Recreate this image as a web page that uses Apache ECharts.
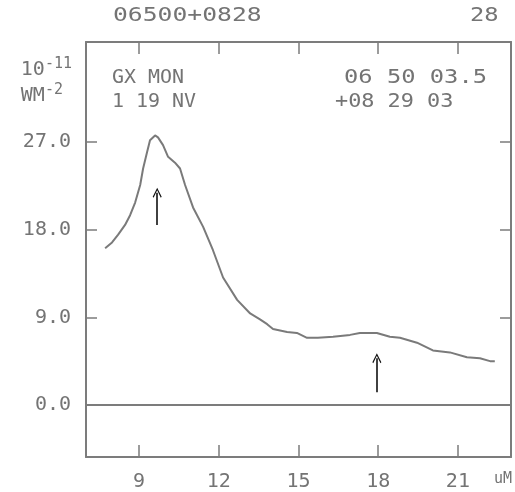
<!DOCTYPE html>
<html>
<head>
<meta charset="utf-8">
<script src="https://cdn.jsdelivr.net/npm/echarts@6/dist/echarts.min.js"></script>
<style>
  html, body { margin: 0; padding: 0; background: #fff; }
  #chart { width: 515px; height: 492px; }
</style>
</head>
<body>
<div id="chart"></div>
<script>
// wavelength (um) and flux (10^-11 W m^-2)
var wavelength = [7.72, 7.98, 8.21, 8.47, 8.66, 8.85, 9.04, 9.15, 9.30, 9.41, 9.60, 9.71, 9.90, 10.09, 10.35, 10.54,
  10.73, 11.03, 11.41, 11.78, 12.16, 12.69, 13.18, 13.55, 13.82, 14.04, 14.57, 14.94, 15.32, 15.73, 16.30,
  16.94, 17.31, 17.95, 18.44, 18.82, 19.46, 20.06, 20.70, 21.34, 21.83, 22.21, 22.39];
var flux = [16.1, 16.7, 17.5, 18.5, 19.5, 20.8, 22.6, 24.3, 26.0, 27.2, 27.7, 27.5, 26.7, 25.5, 24.9, 24.3,
  22.6, 20.3, 18.3, 15.9, 13.1, 10.8, 9.4, 8.8, 8.3, 7.8, 7.5, 7.4, 6.9, 6.9, 7.0,
  7.2, 7.4, 7.4, 7.0, 6.9, 6.4, 5.6, 5.4, 4.9, 4.8, 4.5, 4.5];

var xTicks = [9, 12, 15, 18, 21];
var yTicks = [0, 9, 18, 27];
var yMarks = [9, 18, 27];

// feature arrows: [x, y from, y to]
var arrows = [[9.68, 18.5, 21.8], [17.95, 1.3, 4.8]];

var gray = '#747474';
var font = 'DejaVu Sans Mono';

var lineData = [];
for (var i = 0; i < wavelength.length; i++) {
  lineData.push([wavelength[i], flux[i]]);
}

var arrowLines = [];
for (var j = 0; j < arrows.length; j++) {
  arrowLines.push([
    { coord: [arrows[j][0], arrows[j][1]] },
    { coord: [arrows[j][0], arrows[j][2]] }
  ]);
}

function xAxisOpt(pos, labels) {
  return {
    type: 'value', position: pos, min: 7, max: 23,
    axisLine: { show: true, onZero: false, lineStyle: { color: '#7c7c7c', width: 2 } },
    axisTick: { show: true, inside: true, length: 12, customValues: xTicks, lineStyle: { color: '#7c7c7c', width: 1.5 } },
    axisLabel: { show: labels, customValues: xTicks, margin: 15, color: gray, fontFamily: font, fontSize: 20 },
    splitLine: { show: false }
  };
}

function yAxisOpt(pos, labels) {
  return {
    type: 'value', position: pos, min: -5.35, max: 37.3,
    axisLine: { show: true, onZero: false, lineStyle: { color: '#7c7c7c', width: 2 } },
    axisTick: { show: true, inside: true, length: 11, customValues: yMarks, lineStyle: { color: '#7c7c7c', width: 1.5 } },
    axisLabel: {
      show: labels, customValues: yTicks, margin: 15, color: gray, fontFamily: font, fontSize: 20,
      formatter: function (v) { return v.toFixed(1); }
    },
    splitLine: { show: false }
  };
}

// header text, stretched a little like the plotter lettering
function label(txt, x, y, sx) {
  return {
    type: 'text', x: x, y: y, scaleX: sx,
    style: { text: txt, fill: gray, font: '19px "DejaVu Sans Mono"', verticalAlign: 'middle' }
  };
}

var chart = echarts.init(document.getElementById('chart'));
chart.setOption({
  backgroundColor: '#fff',
  animation: false,
  grid: { left: 86, right: 4, top: 42, bottom: 35 },
  xAxis: [xAxisOpt('bottom', true), xAxisOpt('top', false)],
  yAxis: [yAxisOpt('left', true), yAxisOpt('right', false)],
  series: [
    {
      type: 'line',
      data: lineData,
      showSymbol: false,
      lineStyle: { color: '#7a7a7a', width: 2 },
      markLine: {
        silent: true,
        symbol: 'none',
        label: { show: false },
        lineStyle: { color: '#7c7c7c', type: 'solid', width: 2 },
        data: [{ yAxis: 0 }]
      }
    },
    {
      type: 'line',
      data: [],
      markLine: {
        silent: true,
        symbol: ['none', 'path://M5,0 L10,8 L9,9 L5,2.2 L1,9 L0,8 Z'],
        symbolSize: [9, 10],
        label: { show: false },
        lineStyle: { color: '#111', type: 'solid', width: 1.6 },
        data: arrowLines
      }
    }
  ],
  graphic: [
    label('06500+0828', 113, 16, 1.3),
    label('28', 470, 16, 1.25),
    label('GX MON', 112, 78, 1.05),
    label('1 19 NV', 112, 102, 1.05),
    label('06 50 03.5', 344, 78, 1.25),
    label('+08 29 03', 335, 102, 1.15),
    {
      type: 'text', right: 443, top: 57,
      style: {
        text: '10{s|-11}\nWM{s|-2}', fill: gray, align: 'right',
        font: '20px "DejaVu Sans Mono"', lineHeight: 26,
        rich: { s: { fontSize: 15, fontFamily: font, verticalAlign: 'top', padding: [0, 0, 8, 0], fill: gray } }
      }
    },
    { type: 'text', right: 3, top: 472, style: { text: 'uM', fill: gray, font: '15px "DejaVu Sans Mono"' } }
  ]
});
</script>
</body>
</html>
